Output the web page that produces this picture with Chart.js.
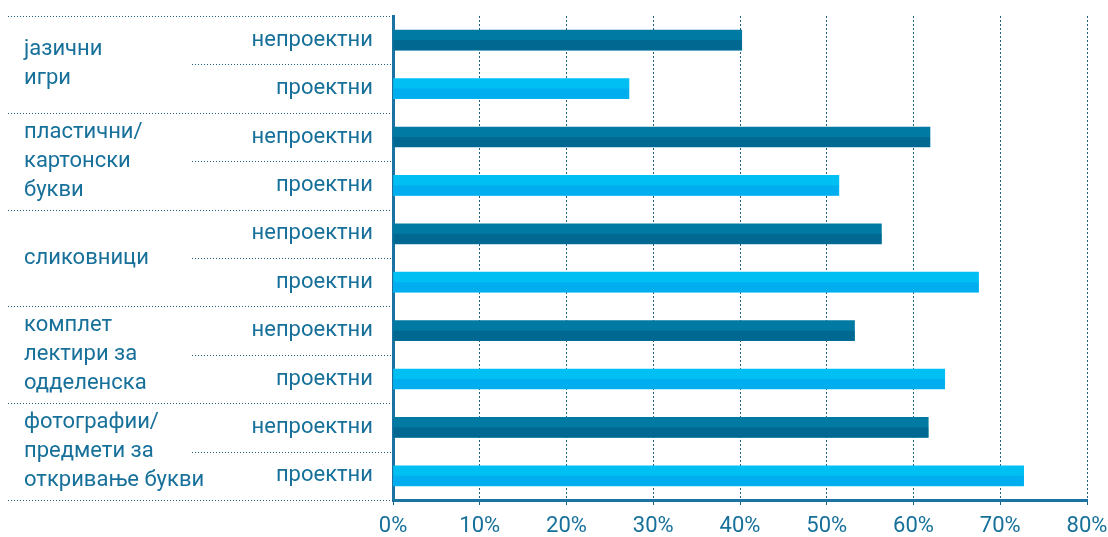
<!DOCTYPE html>
<html>
<head>
<meta charset="utf-8">
<script src="https://cdn.jsdelivr.net/npm/chart.js@4/dist/chart.umd.min.js"></script>
<style>
  body { margin: 0; background: #fff; }
  #wrap { width: 1108px; height: 537px; position: relative; }
</style>
</head>
<body>
<div id="wrap"><canvas id="chart"></canvas></div>
<script>
// groups (multi-line labels on the left)
const groups = [
    ['јазични', 'игри'],
    ['пластични/', 'картонски', 'букви'],
    ['сликовници'],
    ['комплет', 'лектири за', 'одделенска'],
    ['фотографии/', 'предмети за', 'откривање букви']
];
const subLabels = ['непроектни', 'проектни'];
// percent values
const nonProject = [40.2, 61.9, 56.3, 53.2, 61.7];
const project = [27.2, 51.4, 67.5, 63.6, 72.7];
const xTicks = [0, 10, 20, 30, 40, 50, 60, 70, 80];

const textColor = '#17709a';
const darkTop = '#0079a3', darkBottom = '#006891';
const lightTop = '#00bff3', lightBottom = '#00adee';
const fontFamily = 'Roboto, "Noto Sans", sans-serif';

// rows: one per bar
const rowLabels = [];
const values = [];
groups.forEach(function(g, i) {
    rowLabels.push(subLabels[0], subLabels[1]);
    values.push(nonProject[i], project[i]);
});

// draw the bottom half of each bar in the darker shade
const twoTone = {
    id: 'twoTone',
    afterDatasetsDraw(chart) {
        const ctx = chart.ctx;
        const meta = chart.getDatasetMeta(0);
        ctx.save();
        meta.data.forEach(function(el, i) {
            ctx.fillStyle = i % 2 === 0 ? darkBottom : lightBottom;
            ctx.fillRect(el.base, el.y, el.x - el.base, el.height / 2);
        });
        ctx.restore();
    }
};

// dotted row separators + group labels on the left
const sideLabels = {
    id: 'sideLabels',
    afterDraw(chart) {
        const ctx = chart.ctx;
        const y = chart.scales.y;
        const left = chart.chartArea.left;
        const n = rowLabels.length;
        const step = y.getPixelForValue(1) - y.getPixelForValue(0);
        ctx.save();
        ctx.strokeStyle = '#1d5f80';
        ctx.lineWidth = 1;
        ctx.setLineDash([1, 2]);
        for (let i = 0; i <= n; i++) {
            const py = Math.round(y.getPixelForValue(0) - step / 2 + i * step) + 0.5;
            ctx.beginPath();
            ctx.moveTo(i % 2 === 0 ? 8 : 192, py);
            ctx.lineTo(left, py);
            ctx.stroke();
        }
        ctx.setLineDash([]);
        ctx.fillStyle = textColor;
        ctx.font = '22px ' + fontFamily;
        ctx.textAlign = 'left';
        ctx.textBaseline = 'middle';
        const lh = 29;
        groups.forEach(function(lines, g) {
            const cy = (y.getPixelForValue(2 * g) + y.getPixelForValue(2 * g + 1)) / 2;
            const startY = cy - (lines.length - 1) * lh / 2;
            lines.forEach(function(t, k) {
                ctx.fillText(t, 24, startY + k * lh);
            });
        });
        ctx.restore();
    }
};

new Chart(document.getElementById('chart'), {
    type: 'bar',
    data: {
        labels: rowLabels,
        datasets: [{
            data: values,
            backgroundColor: values.map(function(v, i) { return i % 2 === 0 ? darkTop : lightTop; }),
            barThickness: 20,
            borderWidth: 0
        }]
    },
    options: {
        indexAxis: 'y',
        responsive: true,
        maintainAspectRatio: false,
        animation: false,
        layout: { padding: { top: 16, right: 0, left: 0, bottom: 0 } },
        plugins: {
            legend: { display: false },
            tooltip: { enabled: false }
        },
        scales: {
            x: {
                min: 0,
                max: 80,
                afterBuildTicks: function(scale) {
                    scale.ticks = xTicks.map(function(v) { return { value: v }; });
                },
                afterFit: function(scale) {
                    scale.height = 37;
                    scale.paddingRight = 21;
                    scale.paddingLeft = 0;
                },
                ticks: {
                    color: textColor,
                    font: { family: fontFamily, size: 22 },
                    padding: 8,
                    maxRotation: 0,
                    callback: function(v) { return v + '%'; }
                },
                grid: {
                    color: '#1d5f80',
                    lineWidth: 1,
                    tickLength: 5,
                    tickColor: '#1d5f80'
                },
                border: { display: true, color: '#1a73a0', width: 3, dash: [2, 2] }
            },
            y: {
                afterFit: function(scale) {
                    scale.width = 393;
                    scale.paddingTop = 0;
                    scale.paddingBottom = 0;
                },
                ticks: {
                    color: textColor,
                    font: { family: fontFamily, size: 22 },
                    padding: 20
                },
                grid: { display: false, drawTicks: false },
                border: { display: true, color: '#1a73a0', width: 3 }
            }
        }
    },
    plugins: [twoTone, sideLabels]
});
</script>
</body>
</html>
